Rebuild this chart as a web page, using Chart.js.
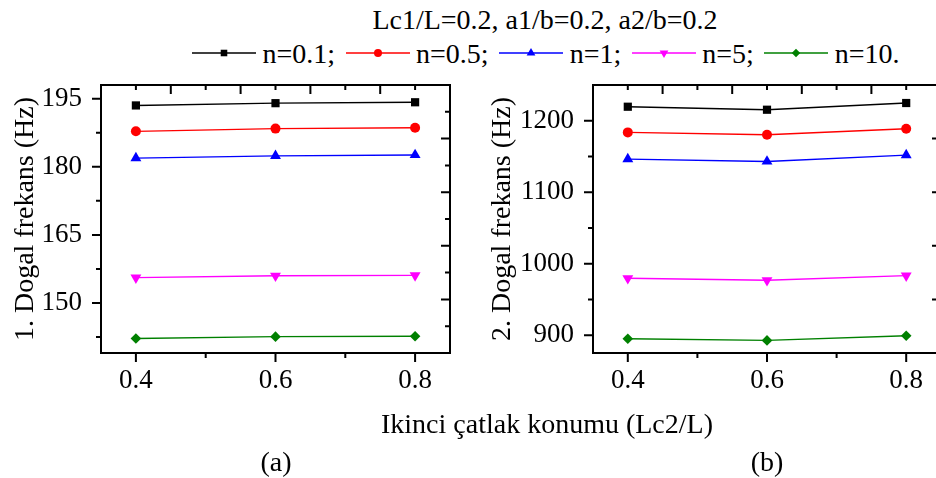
<!DOCTYPE html>
<html>
<head>
<meta charset="utf-8">
<script src="https://cdn.jsdelivr.net/npm/chart.js@4.4.1/dist/chart.umd.min.js"></script>
<style>
  html, body { margin: 0; padding: 0; background: #fff; }
  body { position: relative; width: 936px; height: 478px; overflow: hidden;
         font-family: "Liberation Serif", "Times New Roman", serif; color: #000; }
  .wrap { position: absolute; top: 0; }
  #wrapA { left: 0; width: 470px; height: 478px; }
  #wrapB { left: 470px; width: 480px; height: 478px; }
  .txt { position: absolute; font-size: 28px; line-height: 28px; white-space: nowrap; transform: translateX(-50%); }
  #legend { position: absolute; left: 192px; top: 40px; display: flex; align-items: flex-start;
            font-size: 28px; line-height: 28px; white-space: nowrap; }
  #legend canvas { margin-top: 3px; margin-right: 6.5px; }
  #legend span { margin-right: 10.5px; }
</style>
</head>
<body>
<div id="title" class="txt" style="left:545px; top:6px;">Lc1/L=0.2, a1/b=0.2, a2/b=0.2</div>
<div id="legend"></div>
<div class="wrap" id="wrapA"><canvas id="chartA" width="470" height="478"></canvas></div>
<div class="wrap" id="wrapB"><canvas id="chartB" width="480" height="478"></canvas></div>
<div class="txt" style="left:547px; top:410px;">Ikinci çatlak konumu (Lc2/L)</div>
<div class="txt" style="left:276px; top:448px;">(a)</div>
<div class="txt" style="left:767px; top:448px;">(b)</div>
<script>
// İkinci çatlak konumu (Lc2/L)
const X_VALUES = [0.4, 0.6, 0.8];
const X_TICKS = [0.4, 0.6, 0.8];
const X_MINOR = [0.5, 0.7];
const X_RANGE = [0.35, 0.85];
const SERIES_LABELS = ["n=0.1;", "n=0.5;", "n=1;", "n=5;", "n=10."];

// (a) 1. doğal frekans (Hz)
const F1_N01 = [193.5, 194.0, 194.2];
const F1_N05 = [187.8, 188.4, 188.6];
const F1_N1  = [181.9, 182.4, 182.6];
const F1_N5  = [155.6, 156.0, 156.1];
const F1_N10 = [142.2, 142.6, 142.7];
const Y1_TICKS = [150, 165, 180, 195];
const Y1_MINOR = [142.5, 157.5, 172.5, 187.5];
const Y1_RANGE = [139, 198];
const Y1_TITLE = "1. Dogal frekans (Hz)";

// (b) 2. doğal frekans (Hz)
const F2_N01 = [1219.6, 1215.4, 1224.8];
const F2_N05 = [1183.7, 1180.4, 1188.8];
const F2_N1  = [1146.3, 1143.0, 1151.9];
const F2_N5  = [979.5, 976.7, 983.2];
const F2_N10 = [895.0, 892.6, 899.2];
const Y2_TICKS = [900, 1000, 1100, 1200];
const Y2_MINOR = [950, 1050, 1150];
const Y2_RANGE = [875, 1250];
const Y2_TITLE = "2. Dogal frekans (Hz)";

// top / right mirror axes run 0..10 on their own
const MIRROR_MAJOR = [2, 4, 6, 8];
const MIRROR_MINOR = [1, 3, 5, 7, 9];

// marker style per series (kept apart from the data)
const STYLES = [
  { color: "#000000", shape: "rect",     r: 5.8, rot: 0 },
  { color: "#ff0000", shape: "circle",   r: 5.0, rot: 0 },
  { color: "#0000ff", shape: "triangle", r: 6.3, rot: 0 },
  { color: "#ff00ff", shape: "triangle", r: 6.3, rot: 180 },
  { color: "#008000", shape: "rectRot",  r: 5.3, rot: 0 },
];

Chart.defaults.font.family = "'Liberation Serif', 'Times New Roman', serif";
Chart.defaults.color = "#000";

// frame + Origin-like ticks (out on left/bottom, in on top/right)
const frameTicks = {
  id: "frameTicks",
  afterDraw(chart, args, opts) {
    const { ctx, chartArea: a, scales } = chart;
    const x = scales.x, y = scales.y, xt = scales.xTop, yr = scales.yRight;
    ctx.save();
    ctx.strokeStyle = "#000";
    ctx.lineWidth = 2;
    ctx.beginPath();
    function vt(px, y0, len) { ctx.moveTo(px, y0); ctx.lineTo(px, y0 + len); }
    function ht(py, x0, len) { ctx.moveTo(x0, py); ctx.lineTo(x0 + len, py); }
    X_TICKS.forEach(v => vt(x.getPixelForValue(v), a.bottom, 9));
    X_MINOR.forEach(v => vt(x.getPixelForValue(v), a.bottom, 5));
    opts.yMajor.forEach(v => ht(y.getPixelForValue(v), a.left, -9));
    opts.yMinor.forEach(v => ht(y.getPixelForValue(v), a.left, -5));
    MIRROR_MAJOR.forEach(v => { vt(xt.getPixelForValue(v), a.top, 9); ht(yr.getPixelForValue(v), a.right, -9); });
    MIRROR_MINOR.forEach(v => { vt(xt.getPixelForValue(v), a.top, 5); ht(yr.getPixelForValue(v), a.right, -5); });
    ctx.stroke();
    ctx.strokeRect(a.left, a.top, a.right - a.left, a.bottom - a.top);
    ctx.restore();
  }
};

function makeChart(id, series, yRange, yTicks, yMinor, yTitle, geo) {
  const datasets = series.map(function (vals, i) {
    const s = STYLES[i];
    return {
      label: SERIES_LABELS[i],
      data: X_VALUES.map((xv, j) => ({ x: xv, y: vals[j] })),
      borderColor: s.color, backgroundColor: s.color,
      borderWidth: 1.4, tension: 0,
      pointStyle: s.shape, pointRadius: s.r, pointRotation: s.rot,
      pointBorderWidth: 0, pointHoverRadius: s.r,
    };
  });
  return new Chart(document.getElementById(id), {
    type: "line",
    data: { datasets: datasets },
    plugins: [frameTicks],
    options: {
      responsive: false, animation: false, devicePixelRatio: 1,
      layout: { padding: { left: 0, top: 85, right: geo.padRight, bottom: 0 } },
      plugins: {
        legend: { display: false }, tooltip: { enabled: false },
        frameTicks: { yMajor: yTicks, yMinor: yMinor },
      },
      scales: {
        x: {
          type: "linear", position: "bottom", min: X_RANGE[0], max: X_RANGE[1],
          grid: { display: false, drawTicks: false }, border: { display: false },
          afterBuildTicks: s => { s.ticks = X_TICKS.map(v => ({ value: v })); },
          afterFit: s => { s.height = 125; },
          ticks: { padding: 12, maxRotation: 0, autoSkip: false, font: { size: 27 },
                   callback: v => v.toFixed(1) },
        },
        y: {
          type: "linear", position: "left", min: yRange[0], max: yRange[1],
          grid: { display: false, drawTicks: false }, border: { display: false },
          afterBuildTicks: s => { s.ticks = yTicks.map(v => ({ value: v })); },
          afterFit: s => { s.width = geo.yWidth; },
          ticks: { padding: 19, font: { size: 27 }, callback: v => String(v) },
          title: { display: true, text: yTitle, font: { size: 28 },
                   padding: { top: geo.titlePad, bottom: 0 } },
        },
        xTop: { type: "linear", position: "top", display: false, min: 0, max: 10 },
        yRight: { type: "linear", position: "right", display: false, min: 0, max: 10 },
      },
    },
  });
}

makeChart("chartA", [F1_N01, F1_N05, F1_N1, F1_N5, F1_N10], Y1_RANGE, Y1_TICKS, Y1_MINOR, Y1_TITLE,
          { padRight: 20, yWidth: 101, titlePad: 9 });
makeChart("chartB", [F2_N01, F2_N05, F2_N1, F2_N5, F2_N10], Y2_RANGE, Y2_TICKS, Y2_MINOR, Y2_TITLE,
          { padRight: 9, yWidth: 123, titlePad: 16 });

// shared legend: line + marker, then label
const legend = document.getElementById("legend");
SERIES_LABELS.forEach(function (lab, i) {
  const s = STYLES[i];
  const cv = document.createElement("canvas");
  cv.width = 64; cv.height = 20;
  const c = cv.getContext("2d");
  c.strokeStyle = s.color; c.fillStyle = s.color; c.lineWidth = 1.4;
  c.beginPath(); c.moveTo(0, 10); c.lineTo(64, 10); c.stroke();
  Chart.helpers.drawPoint(c, { pointStyle: s.shape, radius: s.r * 0.8, rotation: s.rot, borderWidth: 0 }, 32, 10);
  const sp = document.createElement("span");
  sp.textContent = lab;
  legend.appendChild(cv);
  legend.appendChild(sp);
});
</script>
</body>
</html>
